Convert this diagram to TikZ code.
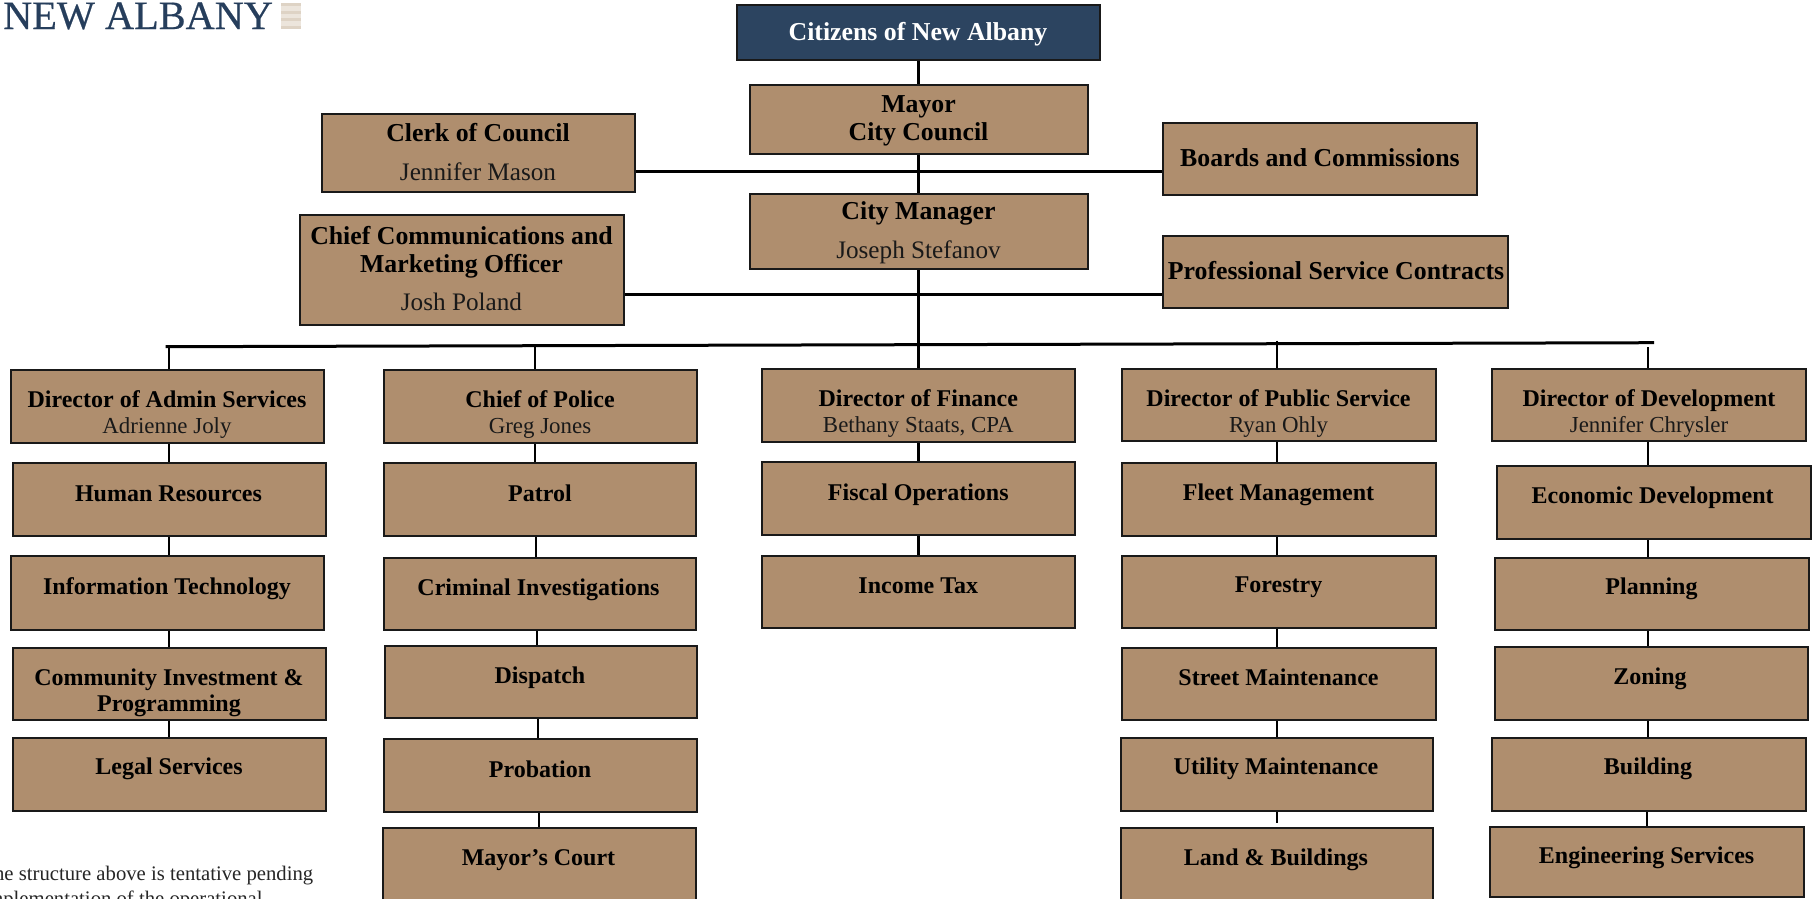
\documentclass[tikz,border=0pt]{standalone}
\usepackage{fontspec}
\setmainfont{Liberation Serif}
\newfontfamily\logofont[FakeBold=0.5]{Liberation Serif}
\definecolor{tanfill}{RGB}{175,142,110}
\definecolor{navyfill}{RGB}{44,68,96}
\definecolor{boxline}{RGB}{25,25,25}
\definecolor{logoblue}{RGB}{38,62,92}
\definecolor{stripea}{RGB}{236,229,220}
\definecolor{stripeb}{RGB}{222,211,197}
\tikzset{
  orgbox/.style={draw=boxline,fill=tanfill,line width=2pt,inner sep=0pt},
  navybox/.style={draw=boxline,fill=navyfill,line width=2pt,inner sep=0pt},
  lbl/.style={anchor=base,align=center,inner sep=0pt,font=\fontsize{24}{22}\selectfont\bfseries},
  conn/.style={draw=black,line width=2.2pt},
  hconn/.style={draw=black,line width=2.7pt},
  busline/.style={draw=black,line width=3pt},
}
\newcommand{\topf}{\fontsize{25.8}{22}\selectfont}
\newcommand{\person}[1]{{\fontsize{25.2}{22}\selectfont\mdseries\color{black!90}#1}}
\newcommand{\smperson}[1]{{\fontsize{22.9}{22}\selectfont\mdseries\color{black!90}#1}}
\newcommand{\bxx}[8][orgbox]{%
  \pgfmathsetmacro{\bw}{#5-#3}\pgfmathsetmacro{\bh}{#6-#4}%
  \pgfmathsetmacro{\cxx}{(#3+#5)/2}\pgfmathsetmacro{\cyy}{(#4+#6)/2}%
  \node[#1,minimum width=\bw pt,minimum height=\bh pt] (#2) at (\cxx,\cyy) {};%
  \node[lbl] (#2-t) at #7 {#8};%
}
\newcommand{\lnk}[3]{%
  \coordinate (#1-#2-x) at (#3,0);%
  \draw[conn] (#1-#2-x |- #1.south) -- (#1-#2-x |- #2.north);%
}
\newcommand{\drop}[4]{% name, x, y, target
  \coordinate (#1) at (#2,#3);%
  \draw[conn] (#1) -- (#1 |- #4.north);%
}
\AtBeginDocument{\lineskiplimit=-100pt\relax}
\begin{document}
\begin{tikzpicture}[x=1pt,y=-1pt]
\useasboundingbox (0,0) rectangle (1816,898);
\clip (0,0) rectangle (1816,898);
\fill[white] (0,0) rectangle (1816,898);

% logo
\node[anchor=base west,inner sep=0pt,text=logoblue,font=\fontsize{40.3}{40}\logofont] (logo) at (3,29) {NEW ALBANY};
\fill[stripea] (281,3) rectangle (301,29);
\foreach \yy in {3,10.5,18,25.5}{\fill[stripeb] (281,\yy) rectangle (301,\yy+3);}

% top of the chart
\bxx[navybox]{cit}{737}{5}{1100}{60}{(918,40.3)}{\topf\textcolor{white}{Citizens of New Albany}}
\bxx{may}{749.5}{85}{1088}{154}{(918.5,140)}{\topf Mayor\\[6pt]\topf City Council}
\bxx{mgr}{749.5}{194}{1088}{269}{(918.5,258.3)}{\topf City Manager\\[17pt]\person{Joseph Stefanov}}
\bxx{clk}{321.5}{114}{635}{192}{(478,180)}{\topf Clerk of Council\\[17pt]\person{Jennifer Mason}}
\bxx{com}{299.5}{215}{624}{325}{(461.5,310)}{\topf Chief Communications and\\[6pt]\topf Marketing Officer\\[16pt]\person{Josh Poland}}
\bxx{brd}{1163}{122.5}{1477}{195}{(1320,166)}{\topf Boards and Commissions}
\bxx{pro}{1163}{235.5}{1508}{308}{(1336,279)}{\topf Professional Service Contracts}

% column 1
\bxx{adm}{10.5}{369.5}{324}{443}{(167,433.3)}{Director of Admin Services\\[3.5pt]\smperson{Adrienne Joly}}
\bxx{hr}{12.5}{463}{325.5}{536}{(168.5,501.7)}{Human Resources}
\bxx{it}{11}{556}{324}{630}{(167,594.4)}{Information Technology}
\bxx{inv}{12.5}{647.5}{325.5}{720}{(169,711)}{Community Investment \&\\[3.5pt]Programming}
\bxx{leg}{12.5}{737.5}{325.5}{810.5}{(169,774)}{Legal Services}

% column 2
\bxx{pol}{384}{369.5}{697}{443}{(540,433.3)}{Chief of Police\\[3.5pt]\smperson{Greg Jones}}
\bxx{pat}{383.5}{463}{696}{536}{(540,501.7)}{Patrol}
\bxx{cri}{383.5}{558}{696}{630}{(538.5,595.5)}{Criminal Investigations}
\bxx{dis}{384.5}{645.5}{697}{718}{(540,683.5)}{Dispatch}
\bxx{prb}{384}{739}{697}{812}{(540,777.3)}{Probation}
\bxx{crt}{383}{828}{695.5}{905}{(538.5,865.7)}{Mayor’s Court}

% column 3
\bxx{fin}{761.5}{369}{1075}{442}{(918.3,432.3)}{Director of Finance\\[3.5pt]\smperson{Bethany Staats, CPA}}
\bxx{fis}{761.5}{462}{1075}{535}{(918.3,500.5)}{Fiscal Operations}
\bxx{tax}{761.5}{555.5}{1075}{628}{(918.3,593)}{Income Tax}

% column 4
\bxx{pub}{1122}{368.5}{1435.5}{441}{(1278.5,432.3)}{Director of Public Service\\[3.5pt]\smperson{Ryan Ohly}}
\bxx{flt}{1122}{462.5}{1435.5}{535.5}{(1278.5,500.3)}{Fleet Management}
\bxx{fst}{1122}{555.5}{1435.5}{628}{(1278.5,592.7)}{Forestry}
\bxx{str}{1122}{648}{1435.5}{720}{(1278.5,685)}{Street Maintenance}
\bxx{utl}{1120.5}{738}{1433}{811}{(1276,774)}{Utility Maintenance}
\bxx{lnd}{1120.5}{827.5}{1433}{905}{(1276,865)}{Land \& Buildings}

% column 5
\bxx{dev}{1492}{368.5}{1805.5}{441}{(1649,432.3)}{Director of Development\\[3.5pt]\smperson{Jennifer Chrysler}}
\bxx{eco}{1497}{466}{1810.5}{539}{(1652.7,503)}{Economic Development}
\bxx{pln}{1495}{557.5}{1808.5}{630}{(1651.5,594.5)}{Planning}
\bxx{zon}{1495}{646.5}{1808}{719.5}{(1650,684)}{Zoning}
\bxx{bld}{1492}{738}{1805.5}{811}{(1648,774)}{Building}
\bxx{eng}{1490}{826.5}{1803.5}{897}{(1646.6,863.3)}{Engineering Services}

% connectors
\lnk{cit}{may}{918.4}
\lnk{may}{mgr}{918.4}
\coordinate (trunk) at (918.4,0);
\coordinate (busL) at (165.6,346.7);
\coordinate (busR) at (1654,342.7);
\draw[hconn] (clk.east |- 0,171.7) coordinate (clkout) -- (brd.west |- clkout);
\draw[hconn] (com.east |- 0,294.7) coordinate (comout) -- (pro.west |- comout);
\draw[conn] (trunk |- mgr.south) -- (trunk |- fin.north);
\draw[busline] (busL) -- (busR);
\drop{d1}{169}{346.7}{adm}
\drop{d2}{535.3}{345.7}{pol}
\drop{d4}{1276.7}{340.5}{pub}
\drop{d5}{1648}{347}{dev}

\lnk{adm}{hr}{169}\lnk{hr}{it}{169}\lnk{it}{inv}{169}\lnk{inv}{leg}{169}
\lnk{pol}{pat}{535.3}\lnk{pat}{cri}{536}\lnk{cri}{dis}{537}\lnk{dis}{prb}{537.8}\lnk{prb}{crt}{538.7}
\lnk{fin}{fis}{918.4}\lnk{fis}{tax}{918.4}
\lnk{pub}{flt}{1277}\lnk{flt}{fst}{1277}\lnk{fst}{str}{1277}\lnk{str}{utl}{1277}
\coordinate (gapend) at (1277,823);
\draw[conn] (gapend |- utl.south) -- (gapend);
\lnk{dev}{eco}{1648}\lnk{eco}{pln}{1648}\lnk{pln}{zon}{1648}\lnk{zon}{bld}{1648}\lnk{bld}{eng}{1647}

% note
\node[anchor=base west,align=left,inner sep=0pt,text=black!85,font=\fontsize{20.7}{25}\selectfont] (note) at (-18.7,905) {The structure above is tentative pending\\implementation of the operational};
\end{tikzpicture}
\end{document}
